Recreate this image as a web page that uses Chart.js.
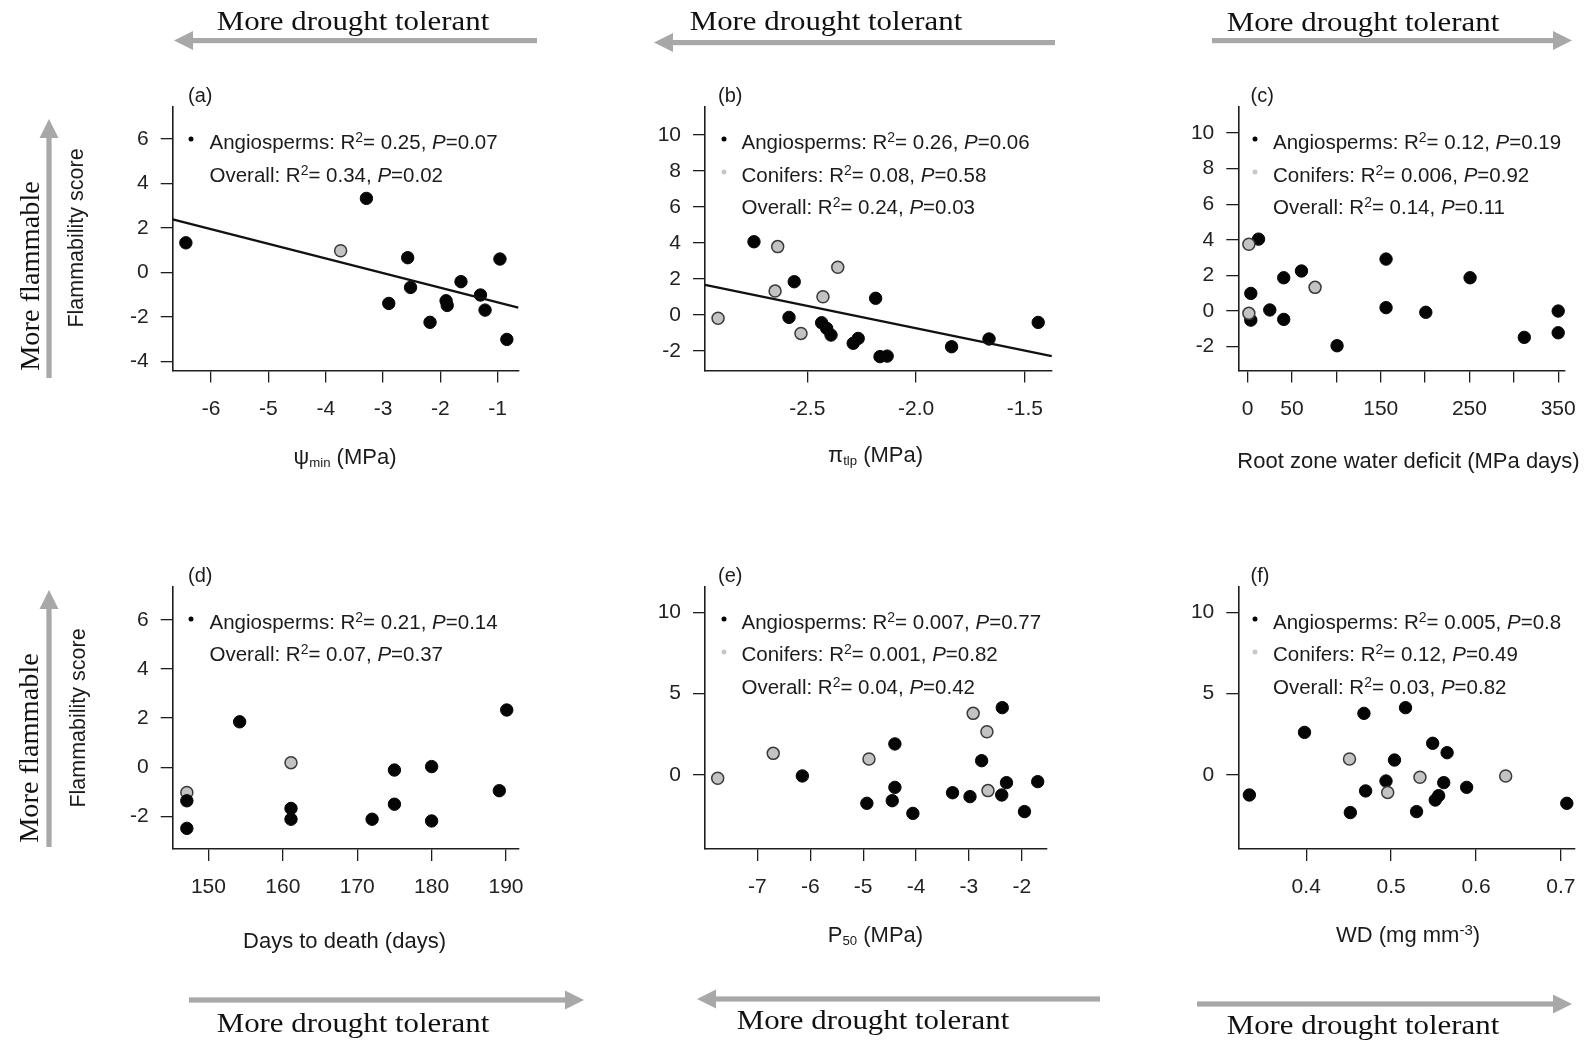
<!DOCTYPE html>
<html lang="en">
<head>
<meta charset="utf-8">
<title>Flammability score and drought tolerance traits</title>
<script src="https://cdn.jsdelivr.net/npm/chart.js@4.4.1/dist/chart.umd.min.js"></script>
<style>
  html, body { margin:0; padding:0; background:#fff; }
  #figure { position:relative; width:1590px; height:1040px; overflow:hidden; background:#fff;
            font-family:"Liberation Sans", Arial, Helvetica, sans-serif; color:#1b1b1b; }
  #figure canvas { position:absolute; left:0; top:0; }
  .lbl { position:absolute; white-space:nowrap; line-height:1; }
  .mid { transform:translate(0,-50%); }
  .ctr { transform:translate(-50%,-50%); }
  .note { font-size:20.5px; }
  .letter { font-size:20px; }
  .axis-title { font-size:22px; }
  .score-title { font-size:21.5px; }
  .serif { font-family:"Liberation Serif","Times New Roman",serif; font-size:27px; color:#111; }
  .sup { font-size:0.68em; position:relative; top:-0.5em; }
  .sub { font-size:0.6em; position:relative; top:0.2em; }
  .key { position:absolute; width:5px; height:5px; border-radius:50%; transform:translate(-50%,-50%); }
</style>
</head>
<body>
<div id="figure"></div>
<script>
const W = 1590, H = 1040;
const SANS = '"Liberation Sans", Arial, Helvetica, sans-serif';

// (a) minimum water potential, psi_min (MPa)
const psiMinAngioX   = [-6.44, -3.29, -2.57, -2.52, -2.90, -2.18, -1.90, -1.88, -1.64, -1.30, -1.22, -0.96, -0.84];
const psiMinAngioY   = [1.33, 3.33, 0.66, -0.68, -1.40, -2.25, -1.28, -1.49, -0.42, -1.02, -1.70, 0.60, -3.02];
const psiMinConiferX = [-3.74];
const psiMinConiferY = [0.97];
const psiMinFitX     = [-6.67, -0.64];
const psiMinFitY     = [2.39, -1.59];
const psiMinTicksX   = [-6, -5, -4, -3, -2, -1];
const psiMinTicksY   = [-4, -2, 0, 2, 4, 6];
const psiMinStats    = [['Angiosperms', '0.25', '0.07'], ['Overall', '0.34', '0.02']];

// (b) turgor loss point, pi_tlp (MPa)
const piTlpAngioX   = [-2.745, -2.56, -2.584, -2.434, -2.411, -2.391, -2.266, -2.289, -2.186, -2.166, -2.133, -1.837, -1.665, -1.439];
const piTlpAngioY   = [4.07, 1.85, -0.13, -0.43, -0.74, -1.11, -1.30, -1.57, 0.93, -2.31, -2.28, -1.76, -1.33, -0.41];
const piTlpConiferX = [-2.91, -2.636, -2.648, -2.529, -2.36, -2.428];
const piTlpConiferY = [-0.18, 3.80, 1.33, -1.02, 2.65, 1.02];
const piTlpFitX     = [-2.97, -1.377];
const piTlpFitY     = [1.67, -2.28];
const piTlpTicksX   = [-2.5, -2.0, -1.5];
const piTlpLabelsX  = ['-2.5', '-2.0', '-1.5'];
const piTlpTicksY   = [-2, 0, 2, 4, 6, 8, 10];
const piTlpStats    = [['Angiosperms', '0.26', '0.06'], ['Conifers', '0.08', '0.58'], ['Overall', '0.24', '0.03']];

// (c) root zone water deficit (MPa days)
const rzwdAngioX   = [12.3, 3.6, 3.6, 25, 40.7, 40.7, 60.7, 100.8, 156, 156, 200.8, 250.7, 311.8, 350, 350];
const rzwdAngioY   = [4.04, 0.99, -0.51, 0.06, 1.87, -0.47, 2.25, -1.95, 2.92, 0.19, -0.07, 1.87, -1.48, 0.0, -1.22];
const rzwdConiferX = [1.4, 1.4, 76];
const rzwdConiferY = [3.75, -0.13, 1.33];
const rzwdTicksX   = [0, 50, 100, 150, 200, 250, 300, 350];
const rzwdLabelsX  = ['0', '50', '', '150', '', '250', '', '350'];
const rzwdTicksY   = [-2, 0, 2, 4, 6, 8, 10];
const rzwdStats    = [['Angiosperms', '0.12', '0.19'], ['Conifers', '0.006', '0.92'], ['Overall', '0.14', '0.11']];

// (d) days to death (days)
const daysAngioX   = [147.1, 147.1, 154.2, 161.1, 161.1, 172.0, 175.0, 175.0, 180.0, 180.0, 189.1, 190.1];
const daysAngioY   = [-1.36, -2.48, 1.85, -1.67, -2.11, -2.11, -0.11, -1.50, 0.03, -2.18, -0.95, 2.33];
const daysConiferX = [147.1, 161.1];
const daysConiferY = [-1.02, 0.19];
const daysTicksX   = [150, 160, 170, 180, 190];
const daysTicksY   = [-2, 0, 2, 4, 6];
const daysStats    = [['Angiosperms', '0.21', '0.14'], ['Overall', '0.07', '0.37']];

// (e) xylem pressure at 50% conductivity loss, P50 (MPa)
const p50AngioX   = [-6.15, -4.93, -4.40, -4.40, -4.45, -4.06, -3.31, -2.98, -2.76, -2.37, -2.29, -2.38, -1.95, -1.70];
const p50AngioY   = [-0.06, -1.74, 1.91, -0.76, -1.58, -2.36, -1.09, -1.33, 0.88, 4.14, -0.47, -1.23, -2.25, -0.41];
const p50ConiferX = [-7.75, -6.70, -4.89, -2.92, -2.66, -2.64];
const p50ConiferY = [-0.20, 1.33, 0.98, 3.79, 2.66, -0.96];
const p50TicksX   = [-7, -6, -5, -4, -3, -2];
const p50TicksY   = [0, 5, 10];
const p50Stats    = [['Angiosperms', '0.007', '0.77'], ['Conifers', '0.001', '0.82'], ['Overall', '0.04', '0.42']];

// (f) wood density, WD (mg mm^-3)
const wdAngioX   = [0.333, 0.398, 0.468, 0.470, 0.452, 0.494, 0.504, 0.517, 0.530, 0.549, 0.566, 0.562, 0.556, 0.552, 0.589, 0.707];
const wdAngioY   = [-1.23, 2.62, 3.79, -0.98, -2.31, -0.37, 0.92, 4.14, -2.25, 1.95, 1.37, -0.47, -1.27, -1.54, -0.76, -1.74];
const wdConiferX = [0.451, 0.496, 0.534, 0.635];
const wdConiferY = [0.98, -1.07, -0.14, -0.06];
const wdTicksX   = [0.4, 0.5, 0.6, 0.7];
const wdLabelsX  = ['0.4', '0.5', '0.6', '0.7'];
const wdTicksY   = [0, 5, 10];
const wdStats    = [['Angiosperms', '0.005', '0.8'], ['Conifers', '0.12', '0.49'], ['Overall', '0.03', '0.82']];

// Panel placement on the page (plot-region edges in px) and axis ranges.
const panels = [
  { letter:'a', angX:psiMinAngioX, angY:psiMinAngioY, conX:psiMinConiferX, conY:psiMinConiferY, fitX:psiMinFitX, fitY:psiMinFitY,
    xTicks:psiMinTicksX, xLabels:null, yTicks:psiMinTicksY, stats:psiMinStats,
    title:'ψ<span class="sub">min</span> (MPa)', titlePos:[345, 457],
    box:{l:172.7, t:106.7, r:518.3, b:370.5}, xRange:[-6.67, -0.64], yRange:[-4.42, 7.46], col:0, row:0 },
  { letter:'b', angX:piTlpAngioX, angY:piTlpAngioY, conX:piTlpConiferX, conY:piTlpConiferY, fitX:piTlpFitX, fitY:piTlpFitY,
    xTicks:piTlpTicksX, xLabels:piTlpLabelsX, yTicks:piTlpTicksY, stats:piTlpStats,
    title:'π<span class="sub">tlp</span> (MPa)', titlePos:[875.5, 455],
    box:{l:705, t:106.7, r:1051.7, b:370.5}, xRange:[-2.97, -1.377], yRange:[-3.08, 11.57], col:1, row:0 },
  { letter:'c', angX:rzwdAngioX, angY:rzwdAngioY, conX:rzwdConiferX, conY:rzwdConiferY,
    xTicks:rzwdTicksX, xLabels:rzwdLabelsX, yTicks:rzwdTicksY, stats:rzwdStats,
    title:'Root zone water deficit (MPa days)', titlePos:[1408.5, 461],
    box:{l:1238.3, t:106.7, r:1575, b:370.5}, xRange:[-10.5, 357], yRange:[-3.34, 11.48], col:2, row:0 },
  { letter:'d', angX:daysAngioX, angY:daysAngioY, conX:daysConiferX, conY:daysConiferY,
    xTicks:daysTicksX, xLabels:null, yTicks:daysTicksY, stats:daysStats,
    title:'Days to death (days)', titlePos:[344.5, 941],
    box:{l:172.7, t:586.5, r:518.3, b:849}, xRange:[145.2, 191.65], yRange:[-3.32, 7.35], col:0, row:1, angioOnTop:true },
  { letter:'e', angX:p50AngioX, angY:p50AngioY, conX:p50ConiferX, conY:p50ConiferY,
    xTicks:p50TicksX, xLabels:null, yTicks:p50TicksY, stats:p50Stats,
    title:'P<span class="sub">50</span> (MPa)', titlePos:[875.5, 935],
    box:{l:705, t:586.5, r:1046.7, b:849}, xRange:[-7.99, -1.53], yRange:[-4.55, 11.59], col:1, row:1 },
  { letter:'f', angX:wdAngioX, angY:wdAngioY, conX:wdConiferX, conY:wdConiferY,
    xTicks:wdTicksX, xLabels:wdLabelsX, yTicks:wdTicksY, stats:wdStats,
    title:'WD (mg mm<span class="sup">-3</span>)', titlePos:[1408, 935],
    box:{l:1238.3, t:586.5, r:1576.7, b:849}, xRange:[0.32, 0.716], yRange:[-4.55, 11.59], col:2, row:1 }
];

// Annotation anchor columns / rows
const colAnchors = [ {letterX:188, dotX:191, textX:209.5}, {letterX:718, dotX:723.5, textX:741.5}, {letterX:1250.5, dotX:1254.5, textX:1273} ];
const rowAnchors = [ {letterY:95, lines:[141.5, 174.5, 207]}, {letterY:575, lines:[621.5, 654, 686.5]} ];

// Gray direction arrows: [tailX, tailY, tipX, tipY]
const arrowList = [
  [537, 40.6, 174, 40.6], [1055, 42.6, 654, 42.6], [1212, 40.6, 1572, 40.6],
  [189, 1000, 584, 1000], [1100, 999, 697, 999], [1197, 1004, 1572, 1004],
  [49, 378, 49, 119], [49, 847, 49, 590]
];
const driftLabels = [
  {x:353, y:20.5, w:272}, {x:825.5, y:21, w:272}, {x:1363, y:22, w:272},
  {x:353, y:1023, w:272}, {x:873, y:1020, w:272}, {x:1363, y:1025, w:272}
];
const flammLabels = [ {x:30, y:276, w:190}, {x:28.5, y:748, w:190} ];
const scoreLabels = [ {x:77, y:237.5}, {x:79, y:717.5} ];

const XH = 60, YW = 80;
const AXIS = '#1e1e1e';
const fig = document.getElementById('figure');

const arrowPlugin = {
  id: 'traitArrows',
  afterDraw(chart) {
    const ctx = chart.ctx;
    ctx.save();
    ctx.fillStyle = '#a8a8a8';
    for (const [x1, y1, x2, y2] of arrowList) {
      const ang = Math.atan2(y2 - y1, x2 - x1), len = Math.hypot(x2 - x1, y2 - y1);
      ctx.save();
      ctx.translate(x1, y1);
      ctx.rotate(ang);
      ctx.fillRect(0, -2.6, len - 16, 5.2);
      ctx.beginPath();
      ctx.moveTo(len, 0);
      ctx.lineTo(len - 19, -9.5);
      ctx.lineTo(len - 19, 9.5);
      ctx.closePath();
      ctx.fill();
      ctx.restore();
    }
    ctx.restore();
  }
};

function pts(xs, ys) { return xs.map((x, i) => ({ x, y: ys[i] })); }

function axisOptions(isX, range, ticks, labels) {
  return {
    type: 'linear',
    position: isX ? 'bottom' : 'left',
    min: range[0], max: range[1],
    afterBuildTicks: s => { s.ticks = ticks.map(v => ({ value: v })); },
    afterFit: s => { if (isX) s.height = XH; else s.width = YW; },
    grid: { drawOnChartArea: false, drawTicks: true, tickLength: 12, color: AXIS, lineWidth: 1.3 },
    border: { display: true, color: AXIS, width: 1.6 },
    ticks: {
      autoSkip: false, maxRotation: 0, minRotation: 0,
      padding: isX ? 14 : 12,
      color: '#222',
      font: { family: SANS, size: 21 },
      callback: (v, i) => labels ? labels[i] : String(v)
    }
  };
}

panels.forEach((p, idx) => {
  const cv = document.createElement('canvas');
  cv.width = W; cv.height = H;
  fig.appendChild(cv);

  const datasets = [];
  if (p.fitX) {
    datasets.push({ label: 'Overall fit', data: pts(p.fitX, p.fitY), showLine: true, borderColor: '#111', borderWidth: 2.3,
                    pointRadius: 0, order: 0, clip: false });
  }
  datasets.push({ label: 'Conifers', data: pts(p.conX, p.conY), pointRadius: 6, pointBackgroundColor: '#c3c3c3',
                  pointBorderColor: '#3a3a3a', pointBorderWidth: 1.5, order: p.angioOnTop ? 2 : 1, clip: false });
  datasets.push({ label: 'Angiosperms', data: pts(p.angX, p.angY), pointRadius: 6.2, pointBackgroundColor: '#050505',
                  pointBorderColor: '#050505', pointBorderWidth: 1, order: p.angioOnTop ? 1 : 2, clip: false });

  new Chart(cv, {
    type: 'scatter',
    data: { datasets },
    options: {
      responsive: false, animation: false, devicePixelRatio: 1, events: [],
      layout: { padding: { left: p.box.l - YW, top: p.box.t, right: W - p.box.r, bottom: H - p.box.b - XH } },
      plugins: { legend: { display: false }, tooltip: { enabled: false } },
      scales: {
        x: axisOptions(true, p.xRange, p.xTicks, p.xLabels),
        y: axisOptions(false, p.yRange, p.yTicks, null)
      }
    },
    plugins: idx === 0 ? [arrowPlugin] : []
  });
});

function addLabel(html, x, y, cls) {
  const el = document.createElement('div');
  el.className = 'lbl ' + cls;
  el.innerHTML = html;
  el.style.left = x + 'px';
  el.style.top = y + 'px';
  fig.appendChild(el);
  return el;
}
function addKey(x, y, color) {
  const el = document.createElement('div');
  el.className = 'key';
  el.style.left = x + 'px';
  el.style.top = y + 'px';
  el.style.background = color;
  fig.appendChild(el);
}

panels.forEach(p => {
  const c = colAnchors[p.col], r = rowAnchors[p.row];
  addLabel('(' + p.letter + ')', c.letterX, r.letterY, 'letter mid');
  p.stats.forEach((s, i) => {
    const [group, r2, pv] = s;
    const y = r.lines[i];
    if (group === 'Angiosperms') addKey(c.dotX, y - 2.5, '#050505');
    if (group === 'Conifers') addKey(c.dotX, y - 2.5, '#c8c8c8');
    addLabel(group + ': R<span class="sup">2</span>= ' + r2 + ', <i>P</i>=' + pv, c.textX, y, 'note mid');
  });
  addLabel(p.title, p.titlePos[0], p.titlePos[1], 'axis-title ctr');
});

scoreLabels.forEach(s => {
  const el = addLabel('Flammability score', s.x, s.y, 'score-title');
  el.style.transform = 'translate(-50%,-50%) rotate(-90deg)';
});
driftLabels.forEach(s => {
  const el = addLabel('More drought tolerant', s.x, s.y, 'serif');
  const k = s.w / el.offsetWidth;
  el.style.transform = 'translate(-50%,-50%) scaleX(' + k.toFixed(3) + ')';
});
flammLabels.forEach(s => {
  const el = addLabel('More flammable', s.x, s.y, 'serif');
  const k = s.w / el.offsetWidth;
  el.style.transform = 'translate(-50%,-50%) rotate(-90deg) scaleX(' + k.toFixed(3) + ')';
});
</script>
</body>
</html>
